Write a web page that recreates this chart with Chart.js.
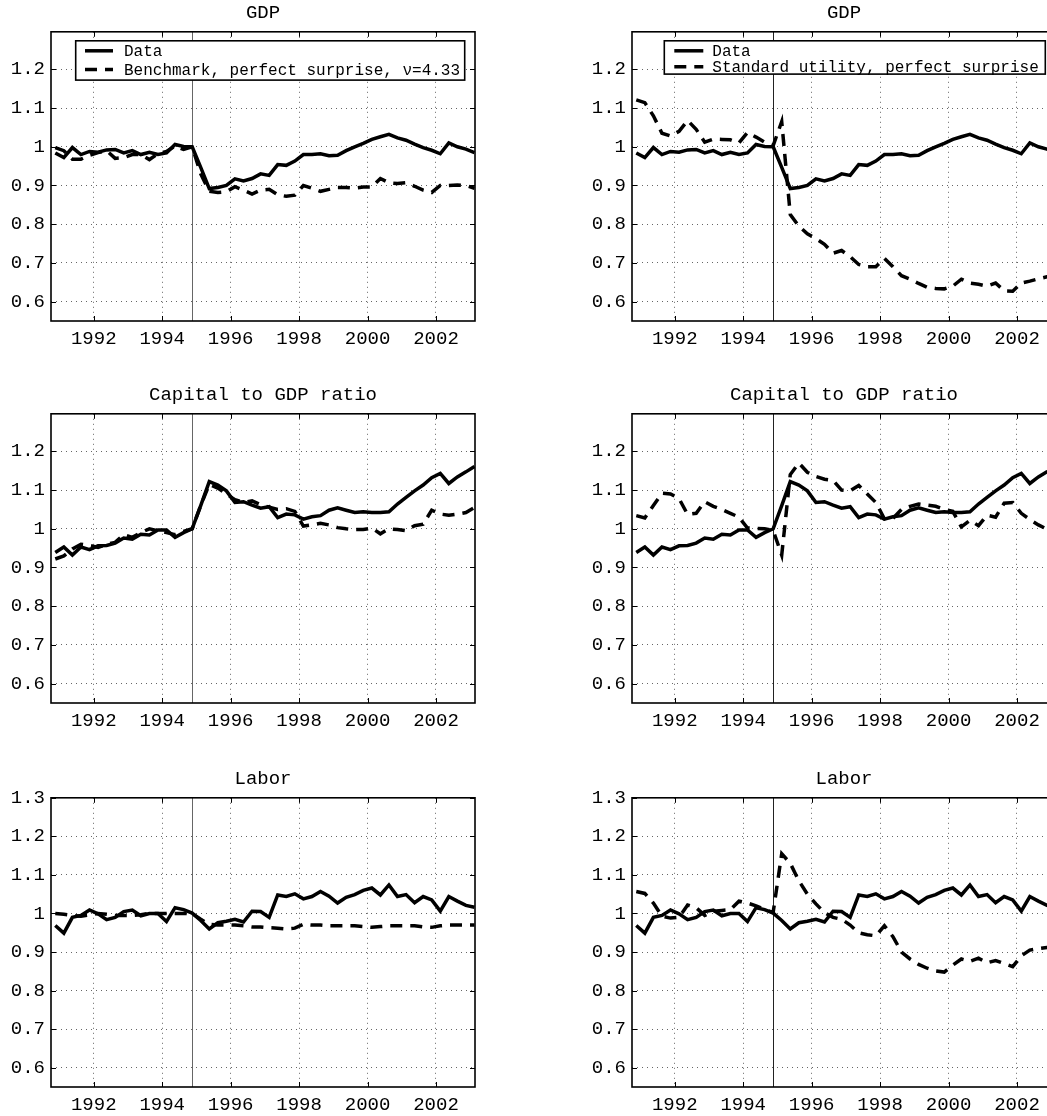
<!DOCTYPE html>
<html>
<head>
<meta charset="utf-8">
<script src="https://cdn.jsdelivr.net/npm/chart.js@4.4.0/dist/chart.umd.min.js"></script>
<style>
  html, body { margin: 0; padding: 0; background: #fff; }
  body { width: 1047px; height: 1116px; overflow: hidden; position: relative; }
  canvas { position: absolute; }
</style>
</head>
<body>
<canvas id="gdpBench" width="490" height="350" style="left:0;top:0"></canvas>
<canvas id="gdpStd" width="490" height="350" style="left:581px;top:0"></canvas>
<canvas id="capBench" width="490" height="350" style="left:0;top:382px"></canvas>
<canvas id="capStd" width="490" height="350" style="left:581px;top:382px"></canvas>
<canvas id="labBench" width="490" height="350" style="left:0;top:766px"></canvas>
<canvas id="labStd" width="490" height="350" style="left:581px;top:766px"></canvas>
<script>
// Trimestres (se dibujan en el punto medio de cada trimestre)
const quarters = [
    '1990Q4',
    '1991Q1', '1991Q2', '1991Q3', '1991Q4',
    '1992Q1', '1992Q2', '1992Q3', '1992Q4',
    '1993Q1', '1993Q2', '1993Q3', '1993Q4',
    '1994Q1', '1994Q2', '1994Q3', '1994Q4',
    '1995Q1', '1995Q2', '1995Q3', '1995Q4',
    '1996Q1', '1996Q2', '1996Q3', '1996Q4',
    '1997Q1', '1997Q2', '1997Q3', '1997Q4',
    '1998Q1', '1998Q2', '1998Q3', '1998Q4',
    '1999Q1', '1999Q2', '1999Q3', '1999Q4',
    '2000Q1', '2000Q2', '2000Q3', '2000Q4',
    '2001Q1', '2001Q2', '2001Q3', '2001Q4',
    '2002Q1', '2002Q2', '2002Q3', '2002Q4',
    '2003Q1'
];
const shockQuarter = '1994Q4';

const xTickYears = [1992, 1994, 1996, 1998, 2000, 2002];
const yTicks = [0.6, 0.7, 0.8, 0.9, 1, 1.1, 1.2];
const yTicksLabor = [0.6, 0.7, 0.8, 0.9, 1, 1.1, 1.2, 1.3];

// GDP
const dataGdp = [0.984, 0.972, 0.998, 0.98, 0.988, 0.986, 0.992, 0.993, 0.984, 0.99, 0.98, 0.986, 0.98, 0.984, 1.006, 1.001, 1.0,
    0.947, 0.892, 0.895, 0.9, 0.917, 0.912, 0.918, 0.93, 0.926, 0.954, 0.952, 0.963, 0.98, 0.98, 0.982, 0.977, 0.978, 0.99,
    1.0, 1.009, 1.019, 1.026, 1.032, 1.023, 1.017, 1.007, 0.998, 0.991, 0.982, 1.01, 1.0, 0.994, 0.985];
const benchGdp = [0.998, 0.99, 0.968, 0.968, 0.978, 0.985, 0.99, 0.97, 0.972, 0.98, 0.98, 0.967, 0.982, 0.988, 1.002, 0.993, 1.0,
    0.93, 0.885, 0.882, 0.884, 0.897, 0.888, 0.878, 0.888, 0.89, 0.876, 0.872, 0.875, 0.9, 0.893, 0.885, 0.89, 0.895, 0.895,
    0.893, 0.896, 0.896, 0.918, 0.907, 0.905, 0.907, 0.898, 0.888, 0.882, 0.9, 0.9, 0.901, 0.9, 0.893];
const stdGdp = [1.121, 1.114, 1.08, 1.035, 1.028, 1.04, 1.068, 1.045, 1.012, 1.02, 1.019, 1.018, 1.01, 1.037, 1.025, 1.012, 1.003,
    1.065, 0.825, 0.795, 0.775, 0.763, 0.748, 0.725, 0.732, 0.716, 0.696, 0.69, 0.69, 0.712, 0.69, 0.667, 0.658, 0.647, 0.637,
    0.634, 0.633, 0.64, 0.658, 0.648, 0.645, 0.64, 0.648, 0.628, 0.627, 0.648, 0.653, 0.659, 0.664, 0.665];

// Capital / GDP
const dataCap = [0.939, 0.953, 0.932, 0.953, 0.946, 0.956, 0.957, 0.963, 0.976, 0.973, 0.986, 0.984, 0.997, 0.997, 0.978, 0.99, 1.0,
    1.06, 1.122, 1.113, 1.098, 1.068, 1.07, 1.061, 1.053, 1.057, 1.029, 1.038, 1.036, 1.025, 1.031, 1.034, 1.048, 1.054, 1.048,
    1.042, 1.044, 1.042, 1.042, 1.044, 1.064, 1.081, 1.098, 1.113, 1.132, 1.143, 1.117, 1.134, 1.147, 1.161];
const benchCap = [0.922, 0.93, 0.948, 0.96, 0.957, 0.952, 0.96, 0.965, 0.985, 0.978, 0.99, 1.0, 0.995, 0.99, 0.985, 0.993, 1.0,
    1.06, 1.115, 1.105, 1.09, 1.075, 1.068, 1.072, 1.062, 1.056, 1.05, 1.052, 1.045, 1.007, 1.01, 1.014, 1.01, 1.003, 1.0,
    0.998, 0.998, 1.002, 0.987, 1.0, 0.998, 0.995, 1.008, 1.012, 1.048, 1.038, 1.035, 1.038, 1.042, 1.055];
const stdCap = [1.034, 1.028, 1.06, 1.092, 1.09, 1.078, 1.037, 1.04, 1.07, 1.058, 1.05, 1.04, 1.03, 1.002, 1.001, 1.0, 0.996,
    0.932, 1.14, 1.17, 1.146, 1.135, 1.128, 1.125, 1.1, 1.098, 1.112, 1.09, 1.068, 1.026, 1.027, 1.05, 1.058, 1.064, 1.061,
    1.058, 1.05, 1.045, 1.005, 1.022, 1.008, 1.035, 1.03, 1.066, 1.068, 1.04, 1.024, 1.01, 0.999, 0.995];

// Trabajo
const dataLab = [0.969, 0.949, 0.99, 0.995, 1.009, 0.999, 0.984, 0.99, 1.005, 1.009, 0.994, 1.0, 1.0, 0.979, 1.015, 1.01, 1.001,
    0.982, 0.96, 0.976, 0.98, 0.985, 0.978, 1.006, 1.005, 0.99, 1.048, 1.044, 1.051, 1.038, 1.044, 1.057, 1.045, 1.027, 1.042,
    1.049, 1.06, 1.066, 1.048, 1.074, 1.044, 1.049, 1.028, 1.044, 1.035, 1.006, 1.044, 1.032, 1.021, 1.016];
const benchLab = [1.0, 0.998, 0.995, 0.993, 0.996, 1.0, 0.998, 0.995, 0.995, 0.995, 0.997, 1.0, 1.0, 1.0, 1.0, 1.0, 1.0,
    0.985, 0.972, 0.97, 0.97, 0.97, 0.968, 0.965, 0.965, 0.963, 0.962, 0.96, 0.962, 0.972, 0.97, 0.97, 0.968, 0.968, 0.968,
    0.968, 0.966, 0.964, 0.966, 0.968, 0.968, 0.968, 0.968, 0.965, 0.964, 0.968, 0.97, 0.97, 0.97, 0.97];
const stdLab = [1.057, 1.052, 1.027, 0.993, 0.988, 0.99, 1.022, 1.015, 0.995, 1.006, 1.008, 1.01, 1.032, 1.027, 1.02, 1.01, 1.003,
    1.155, 1.13, 1.085, 1.05, 1.025, 1.002, 0.99, 0.985, 0.97, 0.95, 0.945, 0.942, 0.968, 0.94, 0.9, 0.882, 0.868, 0.858,
    0.851, 0.848, 0.866, 0.882, 0.876, 0.884, 0.872, 0.878, 0.87, 0.862, 0.89, 0.905, 0.909, 0.912, 0.914];

const FONT = '"Liberation Mono", "Courier New", monospace';

function quarterToYear(q) {
    return +q.slice(0, 4) + (+q[5] - 1) / 4 + 0.125;
}

function toPoints(values) {
    return quarters.map((q, i) => ({ x: quarterToYear(q), y: values[i] }));
}

// Marco, línea vertical, marcas interiores y leyenda al estilo MATLAB
const framePlugin = {
    id: 'frame',
    beforeDatasetsDraw(chart, args, opts) {
        const { ctx, chartArea: a, scales: { x } } = chart;
        const px = Math.round(x.getPixelForValue(quarterToYear(shockQuarter))) + 0.5;
        ctx.save();
        ctx.strokeStyle = opts.shockColor;
        ctx.lineWidth = 1;
        ctx.beginPath();
        ctx.moveTo(px, a.top);
        ctx.lineTo(px, a.bottom);
        ctx.stroke();
        ctx.restore();
    },
    afterDraw(chart, args, opts) {
        const { ctx, chartArea: a, scales: { x, y } } = chart;
        ctx.save();
        ctx.strokeStyle = '#000';
        ctx.lineWidth = 1;
        ctx.beginPath();
        x.ticks.forEach(t => {
            const p = Math.round(x.getPixelForValue(t.value)) + 0.5;
            ctx.moveTo(p, a.bottom); ctx.lineTo(p, a.bottom - 5);
            ctx.moveTo(p, a.top); ctx.lineTo(p, a.top + 5);
        });
        y.ticks.forEach(t => {
            const p = Math.round(y.getPixelForValue(t.value)) + 0.5;
            ctx.moveTo(a.left, p); ctx.lineTo(a.left + 5, p);
            ctx.moveTo(a.right, p); ctx.lineTo(a.right - 5, p);
        });
        ctx.stroke();

        ctx.lineWidth = 1.6;
        ctx.strokeRect(a.left, a.top, a.width, a.height);

        // leyenda
        const lg = opts.legend;
        if (lg) {
            const bx = a.left + lg.left, by = a.top + lg.top;
            ctx.fillStyle = '#fff';
            ctx.fillRect(bx, by, lg.width, lg.height);
            ctx.lineWidth = 1.6;
            ctx.strokeRect(bx, by, lg.width, lg.height);
            ctx.font = '16px ' + FONT;
            ctx.textBaseline = 'middle';
            ctx.textAlign = 'left';
            chart.data.datasets.forEach((ds, k) => {
                const yy = by + lg.firstRow + k * lg.rowGap;
                ctx.strokeStyle = ds.borderColor;
                ctx.lineWidth = ds.borderWidth;
                ctx.setLineDash(ds.borderDash || []);
                ctx.beginPath();
                ctx.moveTo(bx + lg.lineStart, yy);
                ctx.lineTo(bx + lg.lineEnd, yy);
                ctx.stroke();
                ctx.setLineDash([]);
                ctx.fillStyle = '#000';
                ctx.fillText(ds.label, bx + lg.textStart, yy + 1);
            });
        }
        ctx.restore();
    }
};

const legendLeft = { left: 24.7, top: 9, width: 389, height: 39.3, firstRow: 10, rowGap: 18.6, lineStart: 9.3, lineEnd: 37.3, textStart: 48.3 };
const legendRight = { left: 32.3, top: 9, width: 381, height: 33.3, firstRow: 10, rowGap: 16, lineStart: 10, lineEnd: 39, textStart: 48 };

function makePanel(id, title, dataValues, modelValues, modelLabel, ticks, yMax, legend, shockColor) {
    const ctx = document.getElementById(id).getContext('2d');
    return new Chart(ctx, {
        type: 'line',
        data: {
            datasets: [
                {
                    label: 'Data',
                    data: toPoints(dataValues),
                    borderColor: '#000',
                    borderWidth: 3.5,
                    pointRadius: 0,
                    tension: 0
                },
                {
                    label: modelLabel,
                    data: toPoints(modelValues),
                    borderColor: '#000',
                    borderWidth: 3.5,
                    borderDash: [12, 8],
                    pointRadius: 0,
                    tension: 0
                }
            ]
        },
        options: {
            responsive: false,
            animation: false,
            devicePixelRatio: 1,
            layout: { padding: { left: 0, right: 15, top: 0, bottom: 0 } },
            plugins: {
                legend: { display: false },
                tooltip: { enabled: false },
                title: {
                    display: true,
                    text: title,
                    fullSize: false,
                    color: '#000',
                    font: { family: FONT, size: 19, weight: 'normal' },
                    padding: { top: 2, bottom: 7 }
                },
                frame: { legend: legend, shockColor: shockColor }
            },
            scales: {
                x: {
                    type: 'linear',
                    min: 1990.75,
                    max: 2003.14,
                    afterBuildTicks: s => { s.ticks = xTickYears.map(v => ({ value: v })); },
                    afterFit: s => { s.height = 29; },
                    grid: { color: '#666', lineWidth: 1, drawTicks: false },
                    border: { display: false, dash: [1, 4] },
                    ticks: {
                        color: '#000',
                        font: { family: FONT, size: 19 },
                        padding: 7,
                        maxRotation: 0,
                        callback: v => String(v)
                    }
                },
                y: {
                    min: 0.55,
                    max: yMax,
                    afterBuildTicks: s => { s.ticks = ticks.map(v => ({ value: v })); },
                    afterFit: s => { s.width = 51; },
                    grid: { color: '#666', lineWidth: 1, drawTicks: false },
                    border: { display: false, dash: [1, 4] },
                    ticks: {
                        color: '#000',
                        font: { family: FONT, size: 19 },
                        padding: 6,
                        callback: v => String(v)
                    }
                }
            }
        },
        plugins: [framePlugin]
    });
}

document.addEventListener('DOMContentLoaded', () => {
    makePanel('gdpBench', 'GDP', dataGdp, benchGdp, 'Benchmark, perfect surprise, ν=4.33', yTicks, 1.297, legendLeft, '#666');
    makePanel('gdpStd', 'GDP', dataGdp, stdGdp, 'Standard utility, perfect surprise', yTicks, 1.297, legendRight, '#222');
    makePanel('capBench', 'Capital to GDP ratio', dataCap, benchCap, '', yTicks, 1.297, null, '#666');
    makePanel('capStd', 'Capital to GDP ratio', dataCap, stdCap, '', yTicks, 1.297, null, '#222');
    makePanel('labBench', 'Labor', dataLab, benchLab, '', yTicksLabor, 1.3, null, '#666');
    makePanel('labStd', 'Labor', dataLab, stdLab, '', yTicksLabor, 1.3, null, '#222');
});
</script>
</body>
</html>
